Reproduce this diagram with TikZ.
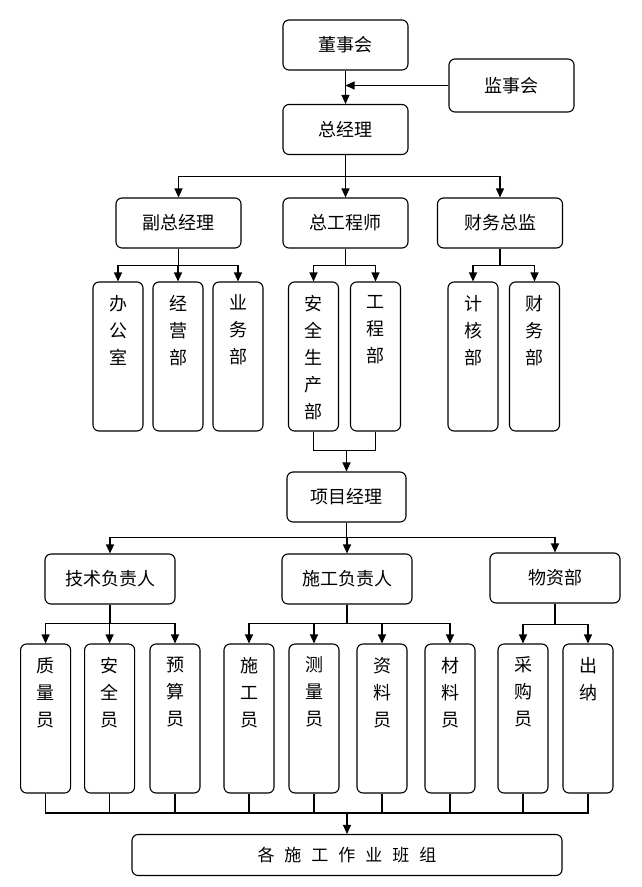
\documentclass[tikz,border=0pt]{standalone}
\usepackage{fontspec}
\newfontfamily\cjk{Noto Sans CJK SC}
\usetikzlibrary{arrows.meta,calc,positioning}
\tikzset{>={Triangle[length=9pt,width=8pt]}}
\tikzset{
	box/.style={draw, line width=1.1pt, rounded corners=6pt, minimum width=125pt, minimum height=50pt, inner sep=0pt, font=\cjk\fontsize{18}{20}\selectfont},
	tall/.style={draw, line width=1.1pt, rounded corners=6pt, minimum width=50pt, inner sep=0pt, font=\cjk\fontsize{18}{27}\selectfont},
	link/.style={line width=1.1pt}
}
\newcommand{\vcol}[1]{\parbox[c][149pt][t]{50pt}{\centering\vspace*{13pt}#1}}

\begin{document}
\begin{tikzpicture}[x=1pt,y=-1pt]
	\useasboundingbox (0,0) rectangle (641,887);
	% top level
	\node[box] (dsh) at (345.5,45) {董事会};
	\node[box, minimum height=53pt] (jsh) at (511.5,85.5) {监事会};
	\node[box] (zjl) at (345.5,129.5) {总经理};
	\node[box] (fzjl) at (178.5,223) {副总经理};
	\node[box] (zgcs) at (345.5,223) {总工程师};
	\node[box] (cwzj) at (500,223) {财务总监};
	% departments
	\node[tall] (bgs) at (118,356.5) {\vcol{办\\公\\室}};
	\node[tall] (jyb) at (178,356.5) {\vcol{经\\营\\部}};
	\node[tall] (ywb) at (238,356.5) {\vcol{业\\务\\部}};
	\node[tall] (aqsc) at (313.5,356.5) {\vcol{安\\全\\生\\产\\部}};
	\node[tall] (gcb) at (375.5,356.5) {\vcol{工\\程\\部}};
	\node[tall] (jhb) at (473,356.5) {\vcol{计\\核\\部}};
	\node[tall] (cwb) at (534.5,356.5) {\vcol{财\\务\\部}};
	% project level
	\node[box, minimum width=119pt] (xmjl) at (346.5,497) {项目经理};
	\node[box, minimum width=130pt] (jsfz) at (110,579) {技术负责人};
	\node[box, minimum width=130pt] (sgfz) at (347,579) {施工负责人};
	\node[box, minimum width=130pt] (wzb) at (555,578) {物资部};
	% staff
	\node[tall] (zly) at (45.6,718.5) {\vcol{质\\量\\员}};
	\node[tall] (aqy) at (109.6,718.5) {\vcol{安\\全\\员}};
	\node[tall] (ysy) at (175,718.5) {\vcol{预\\算\\员}};
	\node[tall] (sgy) at (249,718.5) {\vcol{施\\工\\员}};
	\node[tall] (cly) at (314,718.5) {\vcol{测\\量\\员}};
	\node[tall] (zlly) at (382,718.5) {\vcol{资\\料\\员}};
	\node[tall] (clly) at (450,718.5) {\vcol{材\\料\\员}};
	\node[tall] (cgy) at (523,718.5) {\vcol{采\\购\\员}};
	\node[tall] (cn) at (588,718.5) {\vcol{出\\纳}};
	\node[box, minimum width=430pt, minimum height=41pt, font=\cjk\fontsize{17}{20}\selectfont] (bz) at (347,855)
		{各\hspace{10pt}施\hspace{10pt}工\hspace{10pt}作\hspace{10pt}业\hspace{10pt}班\hspace{10pt}组};

	% connectors
	\draw[link,->] (dsh) -- (zjl);
	\draw[link,->] (jsh.west) -- (jsh.west -| zjl.north);
	\draw[link,->] (zjl) -- (zgcs);
	\draw[link,->] (zjl.south) -- ++(0,21) -| (fzjl.north);
	\draw[link,->] (zjl.south) -- ++(0,21) -| (cwzj.north);
	\foreach \d in {bgs,jyb,ywb}
		\draw[link,->] (fzjl.south) -- ++(0,17) -| (\d.north);
	\foreach \d in {aqsc,gcb}
		\draw[link,->] (zgcs.south) -- ++(0,17) -| (\d.north);
	\foreach \d in {jhb,cwb}
		\draw[link,->] (cwzj.south) -- ++(0,17) -| (\d.north);
	\draw[link] (aqsc.south) |- ([yshift=21pt]xmjl.north) -| (gcb.south);
	\draw[link,->] ([yshift=21pt]xmjl.north) -- (xmjl.north);
	\foreach \d in {jsfz,sgfz,wzb}
		\draw[link,->] (xmjl.south) -- ++(0,15) -| (\d.north);
	\foreach \d in {zly,aqy,ysy}
		\draw[link,->] (jsfz.south) -- ++(0,19) -| (\d.north);
	\foreach \d in {sgy,cly,zlly,clly}
		\draw[link,->] (sgfz.south) -- ++(0,19) -| (\d.north);
	\foreach \d in {cgy,cn}
		\draw[link,->] (wzb.south) -- ++(0,21) -| (\d.north);
	\draw[link] (zly.south) |- ([yshift=21pt]bz.north) -| (cn.south);
	\foreach \d in {aqy,ysy,sgy,cly,zlly,clly,cgy}
		\draw[link] (\d.south) -- ++(0,20);
	\draw[link,->] ([yshift=21pt]bz.north) -- (bz.north);
\end{tikzpicture}
\end{document}
